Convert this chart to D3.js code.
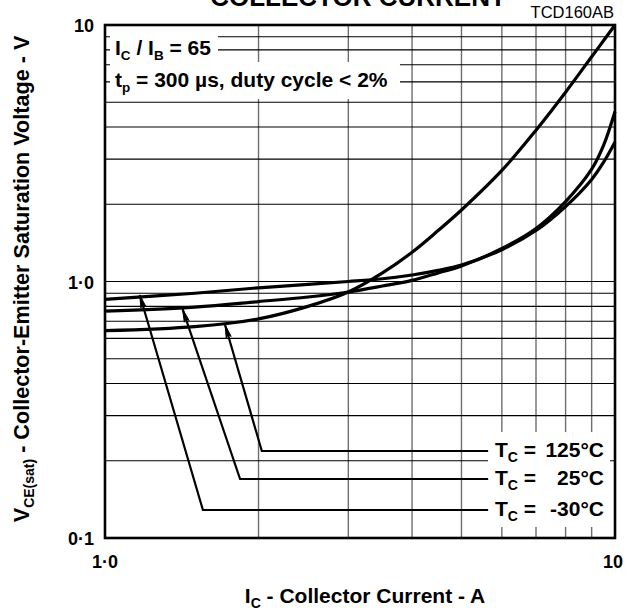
<!DOCTYPE html>
<html>
<head>
<meta charset="utf-8">
<script src="https://cdn.jsdelivr.net/npm/d3@7"></script>
<style>
  html, body { margin: 0; padding: 0; background: #fff; }
  svg { display: block; font-family: "Liberation Sans", Arial, Helvetica, sans-serif; }
</style>
</head>
<body>
<svg id="chart" width="637" height="614"></svg>
<script>
// collector current (A) and V_CE(sat) (V)
const currents = [1, 1.5, 2, 2.5, 3, 3.5, 4, 4.5, 5, 6, 7, 8, 9, 9.5, 10];
const vceMinus30 = [0.852, 0.90, 0.945, 0.975, 1.0, 1.025, 1.06, 1.105, 1.16, 1.33, 1.58, 1.96, 2.5, 2.92, 3.5];
const vce25 = [0.767, 0.795, 0.835, 0.87, 0.91, 0.96, 1.01, 1.08, 1.15, 1.345, 1.61, 2.05, 2.74, 3.4, 4.6];
const vce125 = [0.643, 0.667, 0.715, 0.80, 0.91, 1.08, 1.30, 1.58, 1.9, 2.71, 3.89, 5.47, 7.52, 8.7, 10];

// temperature labels and their leader arrows (order: 125, 25, -30)
const tempLabels = ['125°C', '25°C', '-30°C'];
const arrowTipI = [1.72, 1.42, 1.17];
const arrowTipV = [0.677, 0.779, 0.886];
const arrowCornerI = [2.03, 1.84, 1.556];
const arrowLabelV = [0.2184, 0.1698, 0.1286];
const leaderEndI = 5.64;

const xTicks = [1, 10];
const xTickLabels = ['1·0', '10'];
const yTicks = [0.1, 1, 10];
const yTickLabels = ['0·1', '1·0', '10'];
const xGrid = [2, 3, 4, 5, 6, 7, 8, 9];
const yGrid = [0.2, 0.3, 0.4, 0.5, 0.6, 0.7, 0.8, 0.9, 1, 2, 3, 4, 5, 6, 7, 8, 9];

const svg = d3.select('#chart');
const pLeft = 105, pRight = 615, pTop = 25, pBottom = 538;

const x = d3.scaleLog().domain([1, 10]).range([pLeft, pRight]);
const y = d3.scaleLog().domain([0.1, 10]).range([pBottom, pTop]);

// grid
svg.append('g')
    .selectAll('line')
    .data(xGrid)
    .join('line')
    .attr('x1', d => x(d)).attr('x2', d => x(d))
    .attr('y1', pTop).attr('y2', pBottom)
    .attr('stroke', '#6e6e6e')
    .attr('stroke-width', 1.4);
svg.append('g')
    .selectAll('line')
    .data(yGrid)
    .join('line')
    .attr('x1', pLeft).attr('x2', pRight)
    .attr('y1', d => y(d)).attr('y2', d => y(d))
    .attr('stroke', '#000')
    .attr('stroke-width', 1.1);

// white backgrounds behind the notes
const masks = [
    [110, 27, 108, 35],
    [110, 62, 290, 37],
    [488, 432, 122, 95],
];
svg.append('g')
    .selectAll('rect')
    .data(masks)
    .join('rect')
    .attr('x', d => d[0]).attr('y', d => d[1])
    .attr('width', d => d[2]).attr('height', d => d[3])
    .attr('fill', '#fff');

// frame
svg.append('rect')
    .attr('x', pLeft).attr('y', pTop)
    .attr('width', pRight - pLeft).attr('height', pBottom - pTop)
    .attr('fill', 'none')
    .attr('stroke', '#000')
    .attr('stroke-width', 2.6);

// curves
const line = d3.line()
    .x(d => x(d[0]))
    .y(d => y(d[1]))
    .curve(d3.curveCatmullRom.alpha(0.5));
[vceMinus30, vce25, vce125].forEach(vals => {
    svg.append('path')
        .datum(currents.map((c, i) => [c, vals[i]]))
        .attr('d', line)
        .attr('fill', 'none')
        .attr('stroke', '#000')
        .attr('stroke-width', 3.2)
        .attr('stroke-linejoin', 'round');
});

// leader arrows
tempLabels.forEach((lab, i) => {
    const tx = x(arrowTipI[i]), ty = y(arrowTipV[i]);
    const cx = x(arrowCornerI[i]), cy = y(arrowLabelV[i]);
    svg.append('path')
        .attr('d', `M${x(leaderEndI)},${cy}L${cx},${cy}L${tx},${ty}`)
        .attr('fill', 'none')
        .attr('stroke', '#000')
        .attr('stroke-width', 2.2);
    const ang = Math.atan2(ty - cy, tx - cx);
    const len = 13, spread = 0.2;
    svg.append('path')
        .attr('d', `M${tx},${ty}L${tx - len * Math.cos(ang - spread)},${ty - len * Math.sin(ang - spread)}` +
            `L${tx - len * 0.75 * Math.cos(ang)},${ty - len * 0.75 * Math.sin(ang)}` +
            `L${tx - len * Math.cos(ang + spread)},${ty - len * Math.sin(ang + spread)}Z`)
        .attr('fill', '#000')
        .attr('stroke', '#000')
        .attr('stroke-width', 1);

    const t = svg.append('text')
        .attr('x', 495).attr('y', cy + 6)
        .attr('font-size', 21).attr('font-weight', 'bold');
    t.append('tspan').text('T');
    t.append('tspan').attr('dy', 5).attr('font-size', 14).text('C');
    t.append('tspan').attr('dy', -5).text(' =');
    svg.append('text')
        .attr('x', 604).attr('y', cy + 6)
        .attr('text-anchor', 'end')
        .attr('font-size', 21).attr('font-weight', 'bold')
        .text(lab);
});

// tick labels
svg.append('g')
    .selectAll('text')
    .data(yTicks)
    .join('text')
    .attr('x', 94)
    .attr('y', d => y(d) + 7)
    .attr('text-anchor', 'end')
    .attr('font-size', 18).attr('font-weight', 'bold')
    .text((d, i) => yTickLabels[i]);
svg.append('g')
    .selectAll('text')
    .data(xTicks)
    .join('text')
    .attr('x', (d, i) => x(d) - (i === 1 ? 2 : 0))
    .attr('y', 568)
    .attr('text-anchor', 'middle')
    .attr('font-size', 18).attr('font-weight', 'bold')
    .text((d, i) => xTickLabels[i]);

// axis titles
const xt = svg.append('text')
    .attr('x', 365).attr('y', 603)
    .attr('text-anchor', 'middle')
    .attr('font-size', 21).attr('font-weight', 'bold');
xt.append('tspan').text('I');
xt.append('tspan').attr('dy', 5).attr('font-size', 14).text('C');
xt.append('tspan').attr('dy', -5).text(' - Collector Current - A');

const yt = svg.append('text')
    .attr('transform', 'translate(29,279) rotate(-90)')
    .attr('text-anchor', 'middle')
    .attr('font-size', 21.6).attr('font-weight', 'bold');
yt.append('tspan').text('V');
yt.append('tspan').attr('dy', 5).attr('font-size', 14).text('CE(sat)');
yt.append('tspan').attr('dy', -5).text(' - Collector-Emitter Saturation Voltage - V');

// notes inside the plot
const n1 = svg.append('text')
    .attr('x', 115).attr('y', 55)
    .attr('font-size', 21).attr('font-weight', 'bold');
n1.append('tspan').text('I');
n1.append('tspan').attr('dy', 5).attr('font-size', 13.5).text('C');
n1.append('tspan').attr('dy', -5).text(' / I');
n1.append('tspan').attr('dy', 5).attr('font-size', 13.5).text('B');
n1.append('tspan').attr('dy', -5).text(' = 65');

const n2 = svg.append('text')
    .attr('x', 115).attr('y', 87)
    .attr('font-size', 21).attr('font-weight', 'bold');
n2.append('tspan').text('t');
n2.append('tspan').attr('dy', 5).attr('font-size', 13.5).text('p');
n2.append('tspan').attr('dy', -5).text(' = 300 µs, duty cycle < 2%');

// header (cut off at the top edge, as in the source)
svg.append('text')
    .attr('x', 358).attr('y', 6)
    .attr('text-anchor', 'middle')
    .attr('font-size', 26).attr('font-weight', 'bold')
    .text('COLLECTOR CURRENT');
svg.append('text')
    .attr('x', 614).attr('y', 18)
    .attr('text-anchor', 'end')
    .attr('font-size', 16.5)
    .text('TCD160AB');
</script>
</body>
</html>
